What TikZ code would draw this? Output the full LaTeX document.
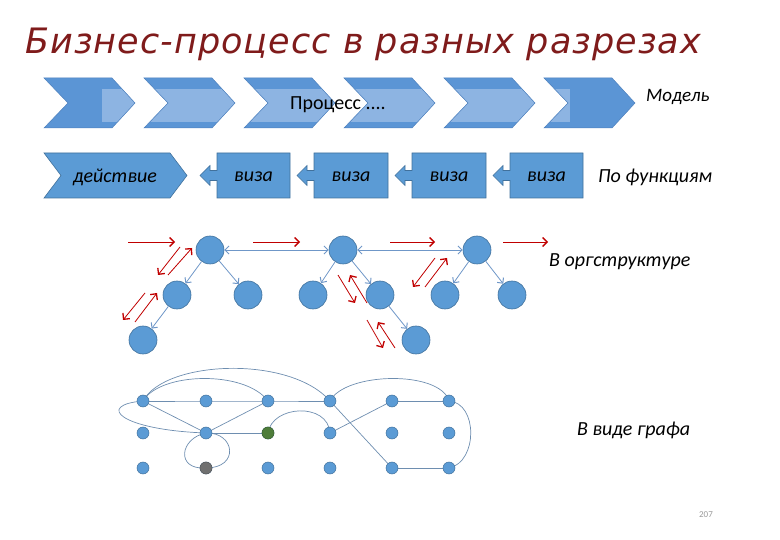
\documentclass[tikz,border=0pt]{standalone}
\usepackage{fontspec}
\setmainfont{Carlito}
\newfontfamily\titlefont[LetterSpace=3]{DejaVu Sans}
\usetikzlibrary{arrows.meta,backgrounds}
\definecolor{titlered}{HTML}{7F1B1B}
\definecolor{chevdark}{HTML}{5B95D5}
\definecolor{chevlight}{HTML}{8DB4E2}
\definecolor{chevline}{HTML}{4F81BD}
\definecolor{nodefill}{HTML}{5B9BD5}
\definecolor{nodeline}{HTML}{41719C}
\definecolor{treeline}{HTML}{6F97C8}
\definecolor{redarr}{HTML}{C00000}
\definecolor{graphline}{HTML}{6E8EB0}
\definecolor{greendot}{HTML}{4E7D3A}
\definecolor{graydot}{HTML}{707070}
\tikzset{
  lbl/.style={inner sep=0pt, font=\fontsize{20}{24}\selectfont\itshape},
  shapebox/.style={fill=nodefill, draw=nodeline, line width=0.6pt},
  tnode/.style={circle, fill=nodefill, draw=nodeline, line width=0.6pt, minimum size=28pt, inner sep=0pt},
  gdot/.style={circle, fill=nodefill, draw=nodeline, line width=0.5pt, minimum size=12pt, inner sep=0pt},
  barrow/.style={draw=treeline, line width=0.8pt, -{Straight Barb[length=4pt,width=8pt,line width=1pt]}},
  bbarrow/.style={draw=treeline, line width=0.8pt, {Straight Barb[length=4pt,width=8pt,line width=1pt]}-{Straight Barb[length=4pt,width=8pt,line width=1pt]}},
  rarrow/.style={draw=redarr, line width=0.8pt, -{Straight Barb[length=4.5pt,width=9pt,line width=1.3pt]}},
  gedge/.style={draw=graphline, line width=0.7pt},
}
\begin{document}
\begin{tikzpicture}[x=1pt,y=-1pt]
\useasboundingbox (0,0) rectangle (780,540);

% title
\node[anchor=base west, text=titlered, inner sep=0pt] (title) at (25,54)
  {\titlefont\itshape\fontsize{35}{41}\selectfont Бизнес-процесс в разных разрезах};

% row 1 chevrons
\foreach \L/\a/\b in {44/102/135, 144/144/235, 244/244/335, 344/344/435, 444/444/535, 544/544/570} {
  \fill[chevdark] (\L,78) -- (\L+68,78) -- (\L+91,103) -- (\L+68,128) -- (\L,128) -- (\L+24,103) -- cycle;
  \begin{scope}
    \clip (\L,78) -- (\L+68,78) -- (\L+91,103) -- (\L+68,128) -- (\L,128) -- (\L+24,103) -- cycle;
    \fill[chevlight] (\a,89) rectangle (\b,122);
  \end{scope}
  \draw[chevline, line width=0.5pt] (\L,78) -- (\L+68,78) -- (\L+91,103) -- (\L+68,128) -- (\L,128) -- (\L+24,103) -- cycle;
}
\node[inner sep=0pt, anchor=west, font=\fontsize{20}{24}\selectfont] (proc) at (290,105) {Процесс ....};
\node[lbl, anchor=west] (model) at (646,97) {\fontsize{19}{23}\selectfont Модель};

% row 2
\draw[shapebox] (44,153) -- (170,153) -- (187,175.5) -- (170,198) -- (44,198) -- (61,175.5) -- cycle;
\node[lbl] (act) at (115,177) {действие};
\foreach \a/\b/\n in {217/290/1, 314/388/2, 412/486/3, 510/583/4} {
  \draw[shapebox] (\a,153) -- (\b,153) -- (\b,198) -- (\a,198) -- (\a,180.5) -- (\a-7,180.5) -- (\a-7,185.5)
     -- (\a-17,175.5) -- (\a-7,165.5) -- (\a-7,170.5) -- (\a,170.5) -- cycle;
  \node[lbl] (viza\n) at ({(\a+\b)/2},177) {виза};
}
\node[lbl, anchor=west] (func) at (598,177) {По функциям};

% tree (org structure)
\node[tnode] (A1) at (210,250) {};
\node[tnode] (B1) at (177,295) {};
\node[tnode] (C1) at (248,295) {};
\node[tnode] (D1) at (143,340) {};
\node[tnode] (A2) at (343,250) {};
\node[tnode] (B2) at (313,295) {};
\node[tnode] (C2) at (380,295) {};
\node[tnode] (D2) at (416,340) {};
\node[tnode] (A3) at (477,250) {};
\node[tnode] (B3) at (445,295) {};
\node[tnode] (C3) at (512,295) {};
\draw[barrow] (A1) -- (B1);
\draw[barrow] (A1) -- (C1);
\draw[barrow] (B1) -- (D1);
\draw[barrow] (A2) -- (B2);
\draw[barrow] (A2) -- (C2);
\draw[barrow] (C2) -- (D2);
\draw[barrow] (A3) -- (B3);
\draw[barrow] (A3) -- (C3);
\draw[bbarrow] (A1) -- (A2);
\draw[bbarrow] (A2) -- (A3);

% red arrows
\draw[rarrow] (128,242) -- (175,242);
\draw[rarrow] (253,242) -- (300,242);
\draw[rarrow] (390,242) -- (435,242);
\draw[rarrow] (503,242) -- (548,242);
\draw[rarrow] (180,247) -- (158,275);
\draw[rarrow] (168,275) -- (192,248);
\draw[rarrow] (145,293) -- (123,320);
\draw[rarrow] (135,322) -- (157,293);
\draw[rarrow] (338,275) -- (355,303);
\draw[rarrow] (367,303) -- (350,275);
\draw[rarrow] (367,320) -- (383,348);
\draw[rarrow] (395,348) -- (378,322);
\draw[rarrow] (435,258) -- (413,287);
\draw[rarrow] (425,287) -- (447,258);

\node[lbl, anchor=west] (org) at (549,262) {В оргструктуре};

% graph
\foreach \c/\x in {1/143, 2/206, 3/268, 4/330, 5/392, 6/449} {
  \node[gdot] (g1\c) at (\x,401) {};
  \node[gdot] (g2\c) at (\x,433) {};
  \node[gdot] (g3\c) at (\x,468) {};
}
\node[gdot, fill=greendot, draw=greendot!80!black] at (g23) {};
\node[gdot, fill=graydot, draw=graydot!80!black] at (g32) {};
\begin{scope}[on background layer]
  \draw[gedge] (g11.center) -- (g12.center) -- (g13.center) -- (g14.center);
  \draw[gedge] (g11.center) -- (g22.center);
  \draw[gedge] (g13.center) -- (g22.center);
  \draw[gedge] (g22.center) -- (g23.center);
  \draw[gedge] (g15.center) -- (g16.center);
  \draw[gedge] (g35.center) -- (g36.center);
  \draw[gedge] (g24.center) -- (g15.center);
  \draw[gedge] (g14.center) -- (g35.center);
  \draw[gedge] (g11.center) .. controls (160,372) and (245,370) .. (g13.center);
  \draw[gedge] (g11.center) .. controls (165,360) and (290,355) .. (g14.center);
  \draw[gedge] (g14.center) .. controls (345,372) and (440,370) .. (g16.center);
  \draw[gedge] (g16.center) .. controls (478,403) and (478,462) .. (g36.center);
  \draw[gedge] (g11.center) .. controls (95,405) and (120,430) .. (g22.center);
  \draw[gedge] (g22.center) .. controls (180,438) and (175,470) .. (g32.center);
  \draw[gedge] (g32.center) .. controls (240,468) and (235,432) .. (g22.center);
  \draw[gedge] (g23.center) .. controls (272,405) and (328,402) .. (g24.center);
\end{scope}

\node[lbl, anchor=west] (graf) at (577,430) {В виде графа};
\node[inner sep=0pt, text=gray!80, font=\fontsize{9}{10}\selectfont] (page) at (706,515) {207};
\end{tikzpicture}
\end{document}
